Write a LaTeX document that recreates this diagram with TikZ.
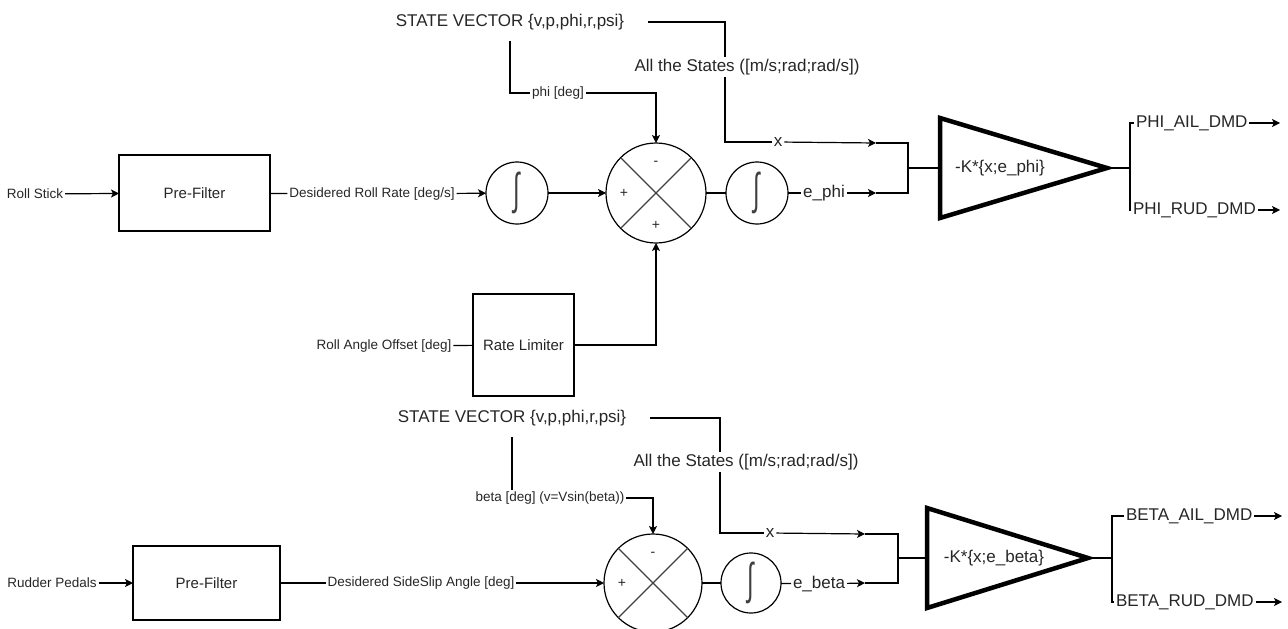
\documentclass[tikz,border=0pt]{standalone}
\usepackage{fontspec}
\setmainfont{Liberation Sans}
\usetikzlibrary{arrows.meta,positioning,calc}
\newcommand{\intsym}{\scalebox{0.7}[1.3]{∫}}

\begin{document}
\begin{tikzpicture}[x=1pt,y=-1pt,line width=1.2pt,
  every node/.style={text=black!85,outer sep=0pt},
  lbl/.style={font=\fontsize{13.5}{16}\selectfont,inner sep=2pt},
  big/.style={font=\fontsize{17}{20}\selectfont,inner sep=2pt},
  blk/.style={draw,font=\fontsize{15}{18}\selectfont},
  intg/.style={draw,circle,minimum size=62pt,inner sep=0pt,text=black!75,font=\fontsize{34}{36}\selectfont},
  sumj/.style={draw,circle,minimum size=100pt,inner sep=0pt},
  sgn/.style={font=\fontsize{14}{16}\selectfont,inner sep=0pt},
  svec/.style={big,minimum width=276pt,minimum height=38pt},
  arr/.style={-{Stealth[length=8pt,width=8pt,inset=2pt]}},
  thk/.style={line width=2.8pt},
  gain/.style={line width=4.5pt,line join=miter},
  cross/.style={draw=black!75,line width=1.1pt}]
 \useasboundingbox (0,0) rectangle (1288,629);
 \node[lbl] (rs) at (35,194) {Roll Stick};
 \node[blk,minimum width=151pt,minimum height=76pt] (pf1) at (194.5,193) {Pre-Filter};
 \node[lbl] (rr) at (372,194) {Desidered Roll Rate [deg/s]};
 \node[intg] (i1) at (517,193) {\intsym};
 \node[sumj] (s1) at (656,193) {};
 \node[intg] (i2) at (757,193) {\intsym};
 \node[big] (ep) at (824,193) {e\_phi};
 \node[sgn] (s1m) at ([yshift=30pt]s1.center) {-};
 \node[sgn] (s1l) at ([xshift=-32pt]s1.center) {+};
 \node[sgn] (s1b) at ([yshift=-32pt]s1.center) {+};
 \node[svec] (sv1) at (510,22) {STATE VECTOR \{v,p,phi,r,psi\}};
 \node[big] (at1) at (747,67) {All the States ([m/s;rad;rad/s])};
 \node[lbl] (pd) at (558,93) {phi [deg]};
 \node[big] (x1) at (778,142) {x};
 \node[blk,minimum width=101pt,minimum height=102pt] (rl) at (523.5,345) {Rate Limiter};
 \node[lbl] (ro) at (384,346) {Roll Angle Offset [deg]};
 \node[big] (k1) at (1000,168) {-K*\{x;e\_phi\}};
 \node[big,anchor=west] (pa) at (1134,123) {PHI\_AIL\_DMD};
 \node[big,anchor=west] (pr) at (1131,210) {PHI\_RUD\_DMD};
 \coordinate (c1) at (725,22);
 \coordinate (a1) at (876,143);
 \coordinate (b1) at (876,193);
 \coordinate (j1) at (908,168);
 \coordinate (t1) at (940,118);
 \coordinate (u1) at (940,218);
 \coordinate (g1) at (940,168);
 \coordinate (tip1) at (1107,168);
 \coordinate (o1) at (1130,168);
 \coordinate (pae) at (1280,123);
 \coordinate (pre) at (1280,210);
 \draw[cross] (s1.north west) -- (s1.south east) (s1.north east) -- (s1.south west);
 \draw[arr] (rs) -- (pf1);
 \draw (pf1) -- (rr);
 \draw[arr] (rr) -- (i1);
 \draw[arr] (i1) -- (s1);
 \draw (s1) -- (i2);
 \draw (i2) -- (ep);
 \draw[arr] (ep) -- (b1);
 \draw (sv1.south) |- (pd.west);
 \draw[arr] (pd.east) -| (s1.north);
 \draw (sv1.east) -- (c1) -- (c1 |- at1.north);
 \draw (c1 |- at1.south) |- (x1.west);
 \draw[arr] (x1) -- (a1);
 \draw (ro) -- (rl);
 \draw[arr] (rl.east) -| (s1.south);
 \draw[thk] (a1) -| (j1) |- (b1);
 \draw[thk] (j1) -- (g1);
 \draw[gain] (t1) -- (tip1) -- (u1) -- cycle;
 \draw[thk] (tip1) -- (o1);
 \draw[thk] (pa.west) -| (o1) |- (pr.west);
 \draw[arr] (pa) -- (pae);
 \draw[arr] (pr) -- (pre);

 \node[svec] (sv2) at (512,418) {STATE VECTOR \{v,p,phi,r,psi\}};
 \node[big] (at2) at (746,462) {All the States ([m/s;rad;rad/s])};
 \node[lbl] (bd) at (550,498) {beta [deg] (v=Vsin(beta))};
 \node[big] (x2) at (770,533) {x};
 \node[lbl] (rp) at (52,583) {Rudder Pedals};
 \node[blk,minimum width=147pt,minimum height=74pt] (pf2) at (206.5,583) {Pre-Filter};
 \node[lbl] (ss) at (421,583) {Desidered SideSlip Angle [deg]};
 \node[sumj,minimum size=98pt] (s2) at (653,583) {};
 \node[intg,minimum size=60pt] (i3) at (751,583) {\intsym};
 \node[big] (eb) at (819,584) {e\_beta};
 \node[sgn] (s2m) at ([yshift=29pt]s2.center) {-};
 \node[sgn] (s2l) at ([xshift=-31pt]s2.center) {+};
 \node[big] (k2) at (994,558) {-K*\{x;e\_beta\}};
 \node[big,anchor=west] (ba) at (1124,516) {BETA\_AIL\_DMD};
 \node[big,anchor=west] (br) at (1114,602) {BETA\_RUD\_DMD};
 \coordinate (c2) at (720,418);
 \coordinate (a2) at (865,534);
 \coordinate (b2) at (865,583);
 \coordinate (j2) at (898,558);
 \coordinate (t2) at (927,508);
 \coordinate (u2) at (927,608);
 \coordinate (g2) at (927,558);
 \coordinate (tip2) at (1088,558);
 \coordinate (o2) at (1112,558);
 \coordinate (bae) at (1282,516);
 \coordinate (bre) at (1282,602);
 \draw[cross] (s2.north west) -- (s2.south east) (s2.north east) -- (s2.south west);
 \draw[arr] (rp) -- (pf2);
 \draw (pf2) -- (ss);
 \draw[arr] (ss) -- (s2);
 \draw (s2) -- (i3);
 \draw (i3) -- (eb);
 \draw[arr] (eb) -- (b2);
 \draw (sv2.south) -- (sv2.south |- bd.north);
 \draw[arr] (bd.east) -| (s2.north);
 \draw (sv2.east) -- (c2) -- (c2 |- at2.north);
 \draw (c2 |- at2.south) |- (x2.west);
 \draw[arr] (x2) -- (a2);
 \draw[thk] (a2) -| (j2) |- (b2);
 \draw[thk] (j2) -- (g2);
 \draw[gain] (t2) -- (tip2) -- (u2) -- cycle;
 \draw[thk] (tip2) -- (o2);
 \draw[thk] (ba.west) -| (o2) |- (br.west);
 \draw[arr] (ba) -- (bae);
 \draw[arr] (br) -- (bre);
\end{tikzpicture}
\end{document}
